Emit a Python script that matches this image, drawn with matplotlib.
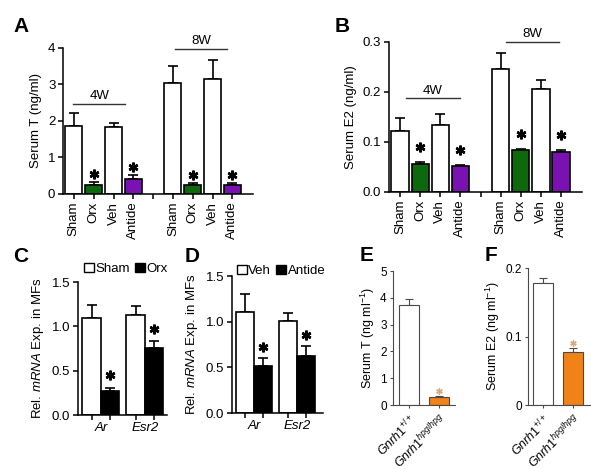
import matplotlib
matplotlib.use('Agg')
import matplotlib.pyplot as plt
from matplotlib.patches import Patch

plt.rcParams['font.family'] = ['Liberation Sans', 'DejaVu Sans']
plt.rcParams['mathtext.fontset'] = 'custom'
plt.rcParams['mathtext.rm'] = 'Liberation Sans'
plt.rcParams['mathtext.it'] = 'Liberation Sans:italic'

# ---- data ----
a_labels = ['Sham', 'Orx', 'Veh', 'Antide', 'Sham', 'Orx', 'Veh', 'Antide']
a_mean = [1.87, 0.25, 1.83, 0.40, 3.03, 0.25, 3.15, 0.25]
a_err = [0.35, 0.07, 0.12, 0.13, 0.47, 0.04, 0.52, 0.04]
a_sig = [False, True, False, True, False, True, False, True]

b_mean = [0.121, 0.055, 0.134, 0.052, 0.245, 0.084, 0.205, 0.080]
b_err = [0.026, 0.005, 0.021, 0.001, 0.033, 0.001, 0.018, 0.003]

genes = ['Ar', 'Esr2']
c_ctrl = [1.09, 1.13]
c_ctrl_err = [0.15, 0.10]
c_trt = [0.27, 0.76]
c_trt_err = [0.04, 0.07]

d_ctrl = [1.11, 1.01]
d_ctrl_err = [0.19, 0.09]
d_trt = [0.52, 0.62]
d_trt_err = [0.08, 0.11]

hpg_labels = [r'$\mathit{Gnrh1}^{+/+}$', r'$\mathit{Gnrh1}^{hpg/hpg}$']
e_mean = [3.73, 0.29]
e_err = [0.22, 0.06]
f_mean = [0.1786, 0.0767]
f_err = [0.0074, 0.0063]

green = '#0c6a0c'
purple = '#7a12b2'
orange = '#f08218'

W, H = 591, 469
fig = plt.figure(figsize=(W / 100, H / 100), dpi=100)


def px_axes(l, t, r, b):
    return fig.add_axes([l / W, 1 - b / H, (r - l) / W, (b - t) / H])


def style(ax, lw=1.1, color='black', size=9.5):
    ax.spines['top'].set_visible(False)
    ax.spines['right'].set_visible(False)
    for s in ('left', 'bottom'):
        ax.spines[s].set_linewidth(lw)
        ax.spines[s].set_color(color)
    ax.tick_params(direction='out', width=lw, length=3.5, color=color,
                   labelsize=size, pad=2)


def star(ax, x, y, ms=7, color='black', mew=1.8):
    ax.plot([x], [y], marker=(6, 2, 0), ms=ms, mew=mew, color=color,
            clip_on=False, zorder=5)


# ---- A and B ----
pos = [0, 1, 2, 3, 5, 6, 7, 8]
cols = ['white', green, 'white', purple] * 2


def grouped(ax, mean, err, ymax, yticks, ylabel, fmt, sig_off, brackets):
    ax.bar(pos, mean, width=0.86, color=cols, edgecolor='black', linewidth=1.2,
           zorder=2)
    ax.errorbar(pos, mean, yerr=[[0] * len(err), err], fmt='none',
                ecolor='black', elinewidth=1.2, capsize=3.5, capthick=1.2,
                zorder=1)
    for p, m, e, s in zip(pos, mean, err, a_sig):
        if s:
            star(ax, p, m + e + sig_off)
    ax.set_ylim(0, ymax)
    ax.set_xlim(pos[0] - 0.55, 9.04)
    ax.set_yticks(yticks)
    ax.set_yticklabels([fmt.format(v) for v in yticks])
    ax.set_xticks([0, 1, 2, 3, 4, 5, 6, 7, 8])
    ax.set_xticklabels(a_labels[:4] + [''] + a_labels[4:], rotation=90)
    ax.set_ylabel(ylabel, fontsize=9.5)
    for x0, x1, y, txt in brackets:
        ax.plot([x0, x1], [y, y], color='#333333', lw=1.0, clip_on=False)
        ax.text((x0 + x1) / 2, y + ymax * 0.012, txt, ha='center',
                va='bottom', fontsize=9.5)
    style(ax)


axA = px_axes(63, 48, 253, 194)
grouped(axA, a_mean, a_err, 4, [0, 1, 2, 3, 4], 'Serum T (ng/ml)', '{:g}',
        0.22, [(-0.05, 2.6, 2.47, '4W'), (5.08, 7.74, 3.98, '8W')])

axB = px_axes(389, 42, 582, 192)
grouped(axB, b_mean, b_err, 0.3, [0, 0.1, 0.2, 0.3], 'Serum E2 (ng/ml)',
        '{:.1f}', 0.03, [(0.3, 2.96, 0.187, '4W'), (5.28, 7.9, 0.30, '8W')])


# ---- C and D ----
def paired(ax, ctrl, ctrl_err, trt, trt_err, xmax, sig_off, names, leg_xy):
    w = 0.42
    xs = [i - w / 2 for i in range(len(genes))]
    xt = [i + w / 2 for i in range(len(genes))]
    ax.bar(xs, ctrl, width=w, color='white', edgecolor='black', linewidth=1.2,
           zorder=2)
    ax.bar(xt, trt, width=w, color='black', edgecolor='black', linewidth=1.2,
           zorder=2)
    ax.errorbar(xs, ctrl, yerr=[[0, 0], ctrl_err], fmt='none', ecolor='black',
                elinewidth=1.2, capsize=3.5, capthick=1.2, zorder=1)
    ax.errorbar(xt, trt, yerr=[[0, 0], trt_err], fmt='none', ecolor='black',
                elinewidth=1.2, capsize=3.5, capthick=1.2, zorder=1)
    for x, m, e in zip(xt, trt, trt_err):
        star(ax, x, m + e + sig_off)
    ax.set_ylim(0, 1.5)
    ax.set_xlim(-0.52, xmax)
    ax.set_yticks([0, 0.5, 1.0, 1.5])
    ax.set_yticklabels(['0.0', '0.5', '1.0', '1.5'])
    ax.set_xticks(sorted(xs + xt))
    ax.set_xticklabels([])
    ax.set_xticks(range(len(genes)), minor=True)
    ax.set_xticklabels(genes, minor=True, style='italic', fontsize=9.5)
    ax.set_ylabel(r'Rel. $\mathit{mRNA}$ Exp. in MFs', fontsize=9.5)
    style(ax)
    ax.tick_params(axis='x', which='minor', length=0, pad=5)
    handles = [Patch(facecolor='white', edgecolor='black', lw=1.0),
               Patch(facecolor='black', edgecolor='black', lw=1.0)]
    fig.legend(handles, names, loc='center left', ncol=2, frameon=False,
               bbox_to_anchor=(leg_xy[0] / W, 1 - leg_xy[1] / H),
               handlelength=0.75, handleheight=0.75, handletextpad=0.1,
               columnspacing=0.4, borderpad=0, borderaxespad=0, fontsize=9.5)


axC = px_axes(78, 282, 167, 415)
paired(axC, c_ctrl, c_ctrl_err, c_trt, c_trt_err, 1.5, 0.14, ['Sham', 'Orx'],
       (84, 269))
axD = px_axes(232, 276, 323, 413)
paired(axD, d_ctrl, d_ctrl_err, d_trt, d_trt_err, 1.6, 0.12,
       ['Veh', 'Antide'], (237, 271))


# ---- E and F ----
def hpg(ax, mean, err, ymax, yticks, ylab, xmax, sig_off):
    grey = '#4a4a4a'
    ax.bar([0, 1], mean, width=0.67, color=['white', orange], edgecolor=grey,
           linewidth=0.8, zorder=2)
    ax.errorbar([0, 1], mean, yerr=[[0, 0], err], fmt='none', ecolor=grey,
                elinewidth=0.8, capsize=3, capthick=0.8, zorder=1)
    star(ax, 1, mean[1] + err[1] + sig_off, ms=4.5, color='#e0a870', mew=1.0)
    ax.set_ylim(0, ymax)
    ax.set_xlim(-0.52, xmax)
    ax.set_yticks(yticks)
    ax.set_yticklabels(['{:g}'.format(v) for v in yticks])
    ax.set_xticks([0, 1])
    ax.set_xticklabels(hpg_labels, rotation=45, ha='right',
                       rotation_mode='anchor', fontsize=9)
    ax.set_ylabel(ylab, fontsize=9, labelpad=2)
    style(ax, lw=0.8, color=grey, size=8.5)
    ax.tick_params(length=2.5)
    ax.tick_params(axis='x', labelsize=9)


axE = px_axes(393, 271, 455, 405)
hpg(axE, e_mean, e_err, 5, [0, 1, 2, 3, 4, 5], r'Serum T (ng ml$^{-1}$)',
    1.53, 0.16)
axF = px_axes(528, 268, 590, 405)
hpg(axF, f_mean, f_err, 0.2, [0, 0.1, 0.2], r'Serum E2 (ng ml$^{-1}$)',
    1.57, 0.008)

# panel letters
for letter, x, y in [('A', 13, 26), ('B', 335, 27), ('C', 13, 256),
                     ('D', 185, 256), ('E', 360, 255), ('F', 485, 255)]:
    fig.text(x / W, 1 - y / H, letter, fontsize=15, fontweight='bold',
             va='center', ha='left')

fig.savefig('out.png', dpi=100)
